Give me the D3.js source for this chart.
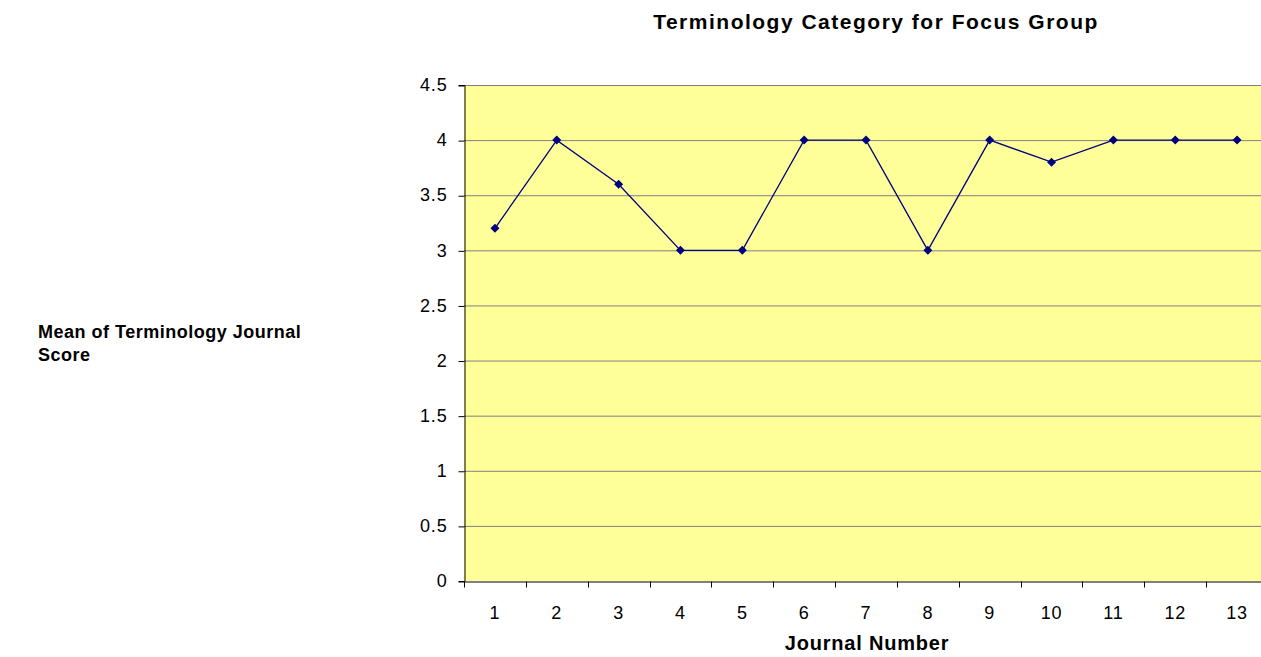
<!DOCTYPE html>
<html>
<head>
<meta charset="utf-8">
<script src="https://cdn.jsdelivr.net/npm/d3@7"></script>
<style>
  body { margin: 0; background: #fff; }
  text { font-family: "Liberation Sans", Arial, sans-serif; }
</style>
</head>
<body>
<div id="chart"></div>
<script>
const journals = ["1", "2", "3", "4", "5", "6", "7", "8", "9", "10", "11", "12", "13"];
const meanScores = [3.2, 4, 3.6, 3, 3, 4, 4, 3, 4, 3.8, 4, 4, 4];
const yTicks = [0, 0.5, 1, 1.5, 2, 2.5, 3, 3.5, 4, 4.5];

const width = 1261;
const height = 657;
const plot = { left: 464, right: 1268, top: 85, bottom: 581 };

const svg = d3.select("#chart")
  .append("svg")
  .attr("width", width)
  .attr("height", height);

const x = d3.scaleBand()
  .domain(journals)
  .range([plot.left, plot.right]);

const y = d3.scaleLinear()
  .domain([0, 4.5])
  .range([plot.bottom, plot.top]);

// plot background
svg.append("rect")
  .attr("x", plot.left)
  .attr("y", plot.top)
  .attr("width", plot.right - plot.left)
  .attr("height", plot.bottom - plot.top)
  .attr("fill", "#ffff99");

// gridlines
svg.append("g")
  .selectAll("line")
  .data(yTicks.filter(d => d > 0))
  .join("line")
  .attr("x1", plot.left)
  .attr("x2", plot.right)
  .attr("y1", d => y(d) + 0.5)
  .attr("y2", d => y(d) + 0.5)
  .attr("stroke", "#808080")
  .attr("stroke-width", 1);

// y axis
const yAxis = svg.append("g")
  .attr("transform", `translate(${plot.left + 0.5},0)`)
  .call(d3.axisLeft(y).tickValues(yTicks).tickFormat(d3.format("")).tickSize(6).tickPadding(11));
yAxis.select(".domain").attr("stroke", "#000");
yAxis.selectAll(".tick line").attr("stroke", "#000").attr("transform", "translate(0,0.5)");
yAxis.selectAll(".tick text")
  .attr("font-size", 18)
  .attr("letter-spacing", 0.8)
  .attr("font-family", "'Liberation Sans', Arial, sans-serif")
  .attr("fill", "#000");

// x axis, ticks at category boundaries
const xAxis = svg.append("g")
  .attr("transform", `translate(0,${plot.bottom + 0.5})`)
  .call(d3.axisBottom(x).tickSize(0).tickPadding(25));
xAxis.select(".domain").attr("stroke", "#000");
xAxis.selectAll(".tick text")
  .attr("font-size", 18)
  .attr("letter-spacing", 0.8)
  .attr("font-family", "'Liberation Sans', Arial, sans-serif")
  .attr("fill", "#000");
xAxis.append("g")
  .selectAll("line")
  .data(journals)
  .join("line")
  .attr("x1", d => Math.round(x(d)) + 0.5)
  .attr("x2", d => Math.round(x(d)) + 0.5)
  .attr("y1", 0)
  .attr("y2", 6)
  .attr("stroke", "#000");

// series line
const cx = d => x(d) + x.bandwidth() / 2;
svg.append("path")
  .datum(meanScores)
  .attr("fill", "none")
  .attr("stroke", "#000080")
  .attr("stroke-width", 1.3)
  .attr("d", d3.line()
    .x((d, i) => cx(journals[i]))
    .y(d => y(d)));

// diamond markers
svg.append("g")
  .attr("fill", "#000080")
  .selectAll("path")
  .data(meanScores)
  .join("path")
  .attr("transform", (d, i) => `translate(${cx(journals[i])},${y(d)})`)
  .attr("d", "M0,-4.5L4.5,0L0,4.5L-4.5,0Z");

// titles
svg.append("text")
  .attr("x", 876)
  .attr("y", 29)
  .attr("text-anchor", "middle")
  .attr("font-size", 21)
  .attr("font-weight", "bold")
  .attr("letter-spacing", 1.5)
  .text("Terminology Category for Focus Group");

svg.append("text")
  .attr("x", 867)
  .attr("y", 650)
  .attr("text-anchor", "middle")
  .attr("font-size", 20)
  .attr("font-weight", "bold")
  .attr("letter-spacing", 0.8)
  .text("Journal Number");

const yTitle = svg.append("text")
  .attr("font-size", 18)
  .attr("font-weight", "bold")
  .attr("letter-spacing", 0.5);
yTitle.append("tspan").attr("x", 38).attr("y", 338).text("Mean of Terminology Journal");
yTitle.append("tspan").attr("x", 38).attr("y", 361).text("Score");
</script>
</body>
</html>
